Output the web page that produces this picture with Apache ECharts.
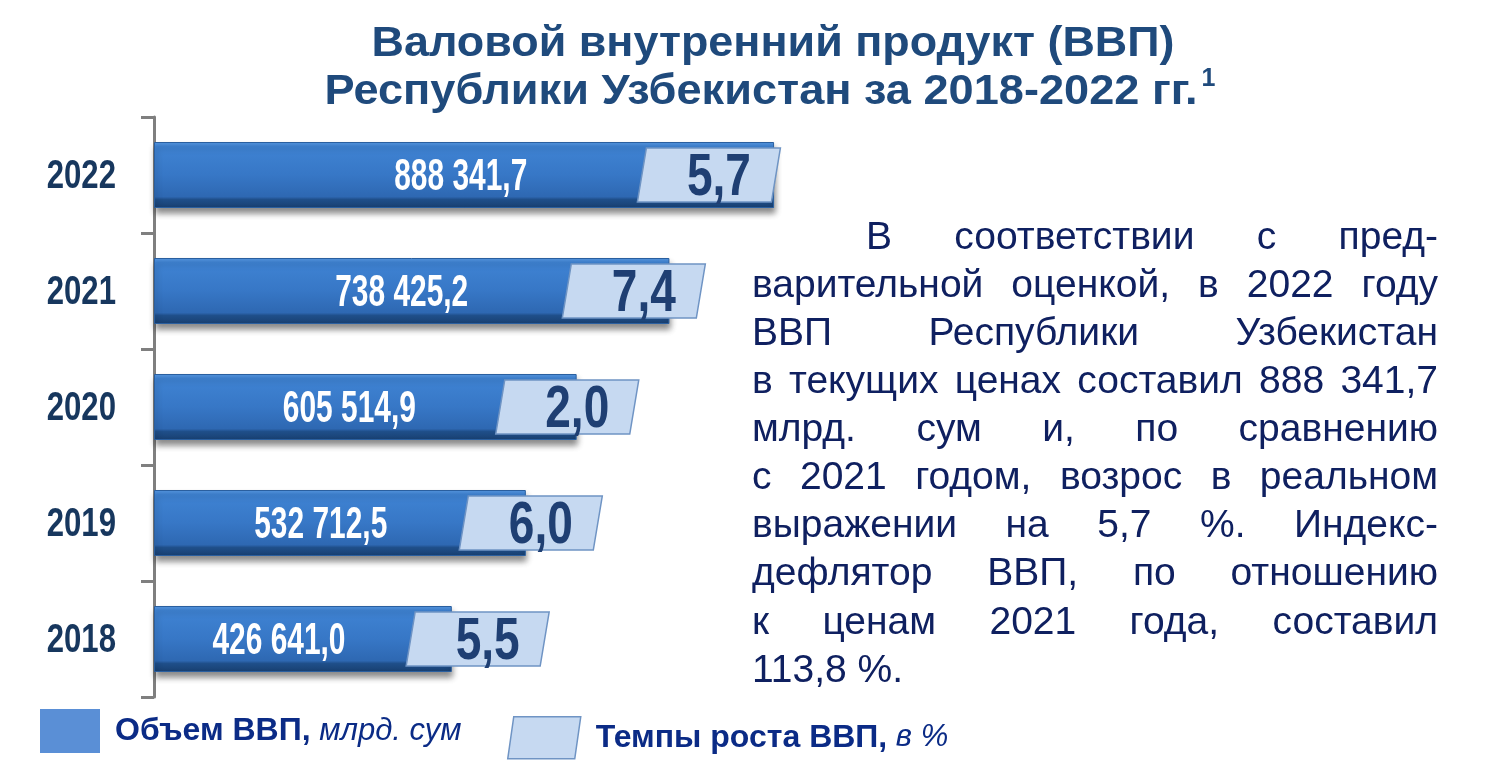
<!DOCTYPE html>
<html><head><meta charset="utf-8">
<script src="https://cdn.jsdelivr.net/npm/echarts@6/dist/echarts.min.js"></script>
<style>html,body{margin:0;padding:0;background:#fff}#chart{width:1509px;height:766px}</style>
</head><body><div id="chart"></div>
<script>
// ---------- data ----------
const years = ['2018', '2019', '2020', '2021', '2022'];
const gdpVolume = [426641.0, 532712.5, 605514.9, 738425.2, 888341.7]; // млрд. сум
const gdpGrowth = [5.5, 6.0, 2.0, 7.4, 5.7];                         // %
const titleLines = ['Валовой внутренний продукт (ВВП)', 'Республики Узбекистан за 2018-2022 гг.'];
const titleNote = '1';
const legendNames = ['Объем ВВП', 'Темпы роста ВВП'];
const legendUnits = ['млрд. сум', 'в %'];
const paragraphLines = [
  'В соответствии с пред-',
  'варительной оценкой, в 2022 году',
  'ВВП Республики Узбекистан',
  'в текущих ценах составил 888 341,7',
  'млрд. сум и, по сравнению',
  'с 2021 годом, возрос в реальном',
  'выражении на 5,7 %. Индекс-',
  'дефлятор ВВП, по отношению',
  'к ценам 2021 года, составил',
  '113,8 %.'
];

// ---------- helpers ----------
function fmtNum(v) {
  const parts = v.toFixed(1).split('.');
  return parts[0].replace(/\B(?=(\d{3})+(?!\d))/g, ' ') + ',' + parts[1];
}
function fmtPct(v) { return v.toFixed(1).replace('.', ','); }

const chart = echarts.init(document.getElementById('chart'));
const measureCtx = document.createElement('canvas').getContext('2d');
function textW(text, font) { measureCtx.font = font; return measureCtx.measureText(text).width; }

// ---------- graphic: title + paragraph ----------
const graphics = [];
const titleFont = 'bold 42px "Liberation Sans", Arial, sans-serif';
const titleColor = '#1f4a7c';
const titleSpecs = [
  { cx: 773, cy: 44, target: 803 },
  { cx: 761, cy: 92, target: 873 }
];
titleLines.forEach((t, i) => {
  const w = textW(t, titleFont);
  const sx = titleSpecs[i].target / w;
  graphics.push({ type: 'text', x: titleSpecs[i].cx, y: titleSpecs[i].cy, scaleX: sx,
    style: { text: t, font: titleFont, fill: titleColor, align: 'center', verticalAlign: 'middle' } });
  if (i === 1) {
    graphics.push({ type: 'text', x: titleSpecs[i].cx + titleSpecs[i].target / 2 + 4, y: titleSpecs[i].cy - 13,
      style: { text: titleNote, font: 'bold 25px "Liberation Sans", Arial, sans-serif', fill: titleColor, align: 'left', verticalAlign: 'middle' } });
  }
});

const pFont = '39px "Liberation Sans", Arial, sans-serif';
const pColor = '#0f2060';
const pLeft = 752, pRight = 1438, pIndent = 866, pTop = 238, pLine = 48.1;
const spaceW = textW(' ', pFont);
paragraphLines.forEach((line, i) => {
  const words = line.split(' ');
  const y = pTop + pLine * i;
  const x0 = i === 0 ? pIndent : pLeft;
  const widths = words.map(w => textW(w, pFont));
  const total = widths.reduce((a, b) => a + b, 0);
  const last = i === paragraphLines.length - 1;
  let gap = (last || words.length < 2) ? spaceW : (pRight - x0 - total) / (words.length - 1);
  let sx = 1;
  if (gap < spaceW * 0.8) { // squeeze if the line would overflow
    const natural = total + spaceW * 0.8 * (words.length - 1);
    sx = (pRight - x0) / natural;
    gap = spaceW * 0.8 * sx;
  }
  let x = x0;
  words.forEach((w, j) => {
    graphics.push({ type: 'text', x: x, y: y, scaleX: sx,
      style: { text: w, font: pFont, fill: pColor, align: 'left', verticalAlign: 'middle' } });
    x += widths[j] * sx + gap;
  });
});

// ---------- custom renderer: year labels, value labels, growth boxes ----------
const condFont = '"Liberation Sans", Arial, sans-serif';
function renderGrowth(params, api) {
  const idx = api.value(0);
  const v = api.value(1);
  const g = api.value(2);
  const p0 = api.coord([0, idx]);
  const p1 = api.coord([v, idx]);
  const L = p1[0] - p0[0];
  const cy = p0[1];
  const cx = p0[0] + 110 + 0.7175 * L;
  const lx = p0[0] - 43 + 0.564 * L;
  const w = 134, h = 54, s = 9;
  return {
    type: 'group',
    children: [
      { type: 'text', x: p0[0] - 38, y: cy + 2, scaleX: 0.76,
        style: { text: years[idx], fill: '#17375e', font: 'bold 41px ' + condFont, align: 'right', verticalAlign: 'middle' } },
      { type: 'text', x: lx, y: cy + 3, scaleX: 0.68,
        style: { text: fmtNum(v), fill: '#ffffff', font: 'bold 44px ' + condFont, align: 'center', verticalAlign: 'middle' } },
      { type: 'polygon',
        shape: { points: [[cx - w / 2 + s / 2, cy - h / 2], [cx + w / 2 + s / 2, cy - h / 2], [cx + w / 2 - s / 2, cy + h / 2], [cx - w / 2 - s / 2, cy + h / 2]] },
        style: { fill: '#c6d9f1', stroke: '#6f94c4', lineWidth: 1.5 } },
      { type: 'text', x: cx + 10, y: cy + 4, scaleX: 0.78,
        style: { text: fmtPct(g), fill: '#1f3f73', font: 'bold 59px ' + condFont, align: 'center', verticalAlign: 'middle' } }
    ]
  };
}

const legendRich = {
  b: { fontFamily: '"Liberation Sans", Arial, sans-serif', fontWeight: 'bold', fontSize: 32, color: '#0b2b86', padding: [0, 0, 0, 10] },
  i: { fontFamily: '"Liberation Sans", Arial, sans-serif', fontStyle: 'italic', fontSize: 31, color: '#0b2b86' }
};

chart.setOption({
  animation: false,
  backgroundColor: '#ffffff',
  grid: { left: 154, top: 117, bottom: 69, right: 657, containLabel: false },
  xAxis: { type: 'value', min: 0, max: 1000000, show: false },
  yAxis: {
    type: 'category', data: years,
    axisLine: { show: true, lineStyle: { color: '#7f7f7f', width: 3 } },
    axisTick: { show: true, inside: false, length: 13, alignWithLabel: false, lineStyle: { color: '#7f7f7f', width: 3 } },
    axisLabel: { show: false },
    splitLine: { show: false }
  },
  legend: [
    { left: 35, top: 704, itemWidth: 60, itemHeight: 44, selectedMode: false,
      data: [{ name: legendNames[0], icon: 'rect', itemStyle: { color: '#5a8fd6', borderWidth: 0, shadowBlur: 0 } }],
      formatter: n => '{b|' + n + ',}{i| ' + legendUnits[0] + '}', textStyle: { rich: legendRich } },
    { left: 502, top: 711, itemWidth: 73, itemHeight: 42, selectedMode: false,
      data: [{ name: legendNames[1], icon: 'path://M6,0 L73,0 L67,42 L0,42 Z', itemStyle: { color: '#c6d9f1', borderColor: '#6f94c4', borderWidth: 1.5 } }],
      formatter: n => '{b|' + n + ',}{i| ' + legendUnits[1] + '}', textStyle: { rich: legendRich } }
  ],
  series: [
    {
      type: 'bar', name: legendNames[0], data: gdpVolume, barWidth: 66, z: 2,
      itemStyle: {
        color: { type: 'linear', x: 0, y: 0, x2: 0, y2: 1, colorStops: [
          { offset: 0, color: '#5797e2' }, { offset: 0.07, color: '#3f83d3' },
          { offset: 0.5, color: '#3777c6' }, { offset: 0.83, color: '#2e68b2' },
          { offset: 0.87, color: '#1f4f8a' }, { offset: 1, color: '#183f70' } ] },
        borderColor: '#2a5f9f', borderWidth: 1,
        shadowColor: 'rgba(0,0,0,0.45)', shadowBlur: 6, shadowOffsetY: 5, shadowOffsetX: 1
      }
    },
    {
      type: 'custom', name: legendNames[1], coordinateSystem: 'cartesian2d', z: 3,
      renderItem: renderGrowth,
      encode: { x: 1, y: 0 },
      data: years.map((y, i) => [i, gdpVolume[i], gdpGrowth[i]])
    }
  ],
  graphic: graphics
});
</script>
</body></html>
